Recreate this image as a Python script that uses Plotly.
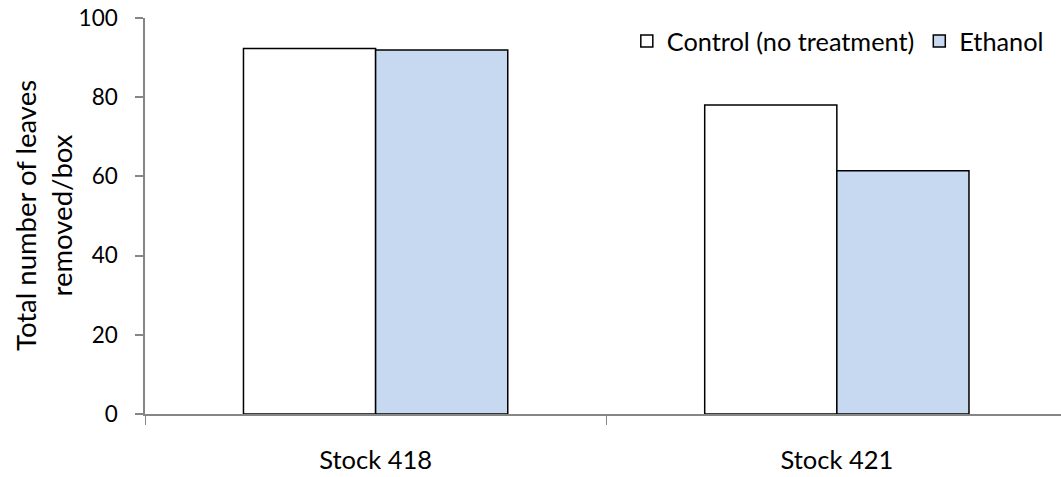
import plotly.graph_objects as go

categories = ["Stock 418", "Stock 421"]
control = [92.3, 78.0]
ethanol = [91.9, 61.4]
series_names = ["Control (no treatment)", "Ethanol"]
y_ticks = [0, 20, 40, 60, 80, 100]

FONT = "Lato"
fig = go.Figure()
fig.add_trace(go.Bar(x=categories, y=control, name=series_names[0],
                     marker=dict(color="#FFFFFF", line=dict(color="#000000", width=1.5))))
fig.add_trace(go.Bar(x=categories, y=ethanol, name=series_names[1],
                     marker=dict(color="#C6D9F1", line=dict(color="#000000", width=1.5))))

fig.update_layout(
    width=1061, height=477,
    margin=dict(l=145, r=0, t=18, b=63, autoexpand=False),
    paper_bgcolor="white", plot_bgcolor="white",
    barmode="group", bargap=0.427, bargroupgap=0,
    font=dict(family=FONT, size=22, color="#000000"),
    showlegend=True,
    legend=dict(orientation="h", x=0.526, xanchor="left", y=1.0, yanchor="top",
                font=dict(family=FONT, size=25.3, color="#000000"),
                bgcolor="rgba(0,0,0,0)", itemclick=False),
    xaxis=dict(type="category", range=[-0.5, 1.486], showline=True, linecolor="#868686",
               linewidth=1.5, ticks="outside", tickson="boundaries", ticklen=9,
               tickcolor="#868686", tickwidth=1, showgrid=False, zeroline=False,
               ticklabelstandoff=23,
               tickfont=dict(family=FONT, size=25.5)),
    yaxis=dict(range=[0, 100], tickvals=y_ticks, showline=True, linecolor="#868686",
               linewidth=1.5, ticks="outside", ticklen=8, tickcolor="#868686",
               tickwidth=1.5, showgrid=False, zeroline=False, ticklabelstandoff=13,
               ticklabeloverflow="allow",
               tickfont=dict(family=FONT, size=22.5)),
)
fig.add_annotation(text="Total number of leaves<br>removed/box", textangle=-90,
                   xref="paper", yref="paper", x=0, y=0.5, xanchor="center", yanchor="middle",
                   xshift=-102, showarrow=False, font=dict(family=FONT, size=27.5, color="#000000"))

fig.write_html("out.html", config={"displayModeBar": False},
               post_script="document.body.style.margin='0';document.body.style.overflow='hidden';")
